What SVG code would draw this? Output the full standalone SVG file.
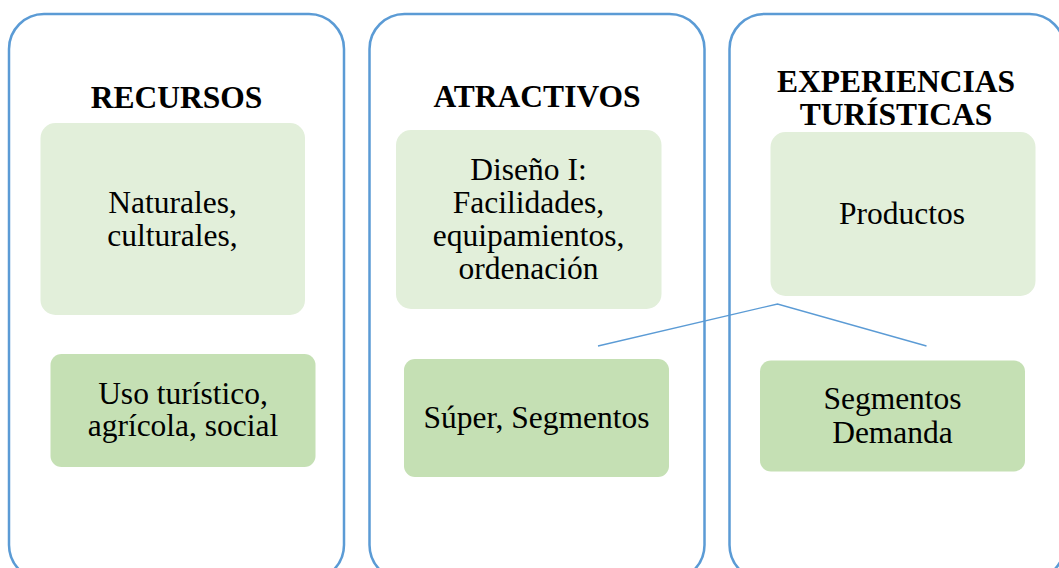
<svg xmlns="http://www.w3.org/2000/svg" width="1059" height="568" viewBox="0 0 1059 568">
<style>
.panel{fill:#FFFFFF;stroke:#5B9BD5;stroke-width:2.5}
.light{fill:#E2EFDA}
.dark{fill:#C5E0B4}
.h{font-family:"Liberation Serif","Times New Roman",serif;font-weight:bold;font-size:31.5px;fill:#000;text-anchor:middle}
.t{font-family:"Liberation Serif","Times New Roman",serif;font-size:31.5px;fill:#000;text-anchor:middle}
.conn{fill:none;stroke:#5B9BD5;stroke-width:1.3}
</style>
<rect width="1059" height="568" fill="#FFFFFF"/>
<g id="panel-recursos">
<rect class="panel" x="9" y="14" width="335" height="566" rx="35" ry="35"/>
<text class="h" x="176.5" y="108">RECURSOS</text>
</g>
<g id="panel-atractivos">
<rect class="panel" x="369.5" y="14" width="335" height="566" rx="35" ry="35"/>
<text class="h" x="537" y="107">ATRACTIVOS</text>
</g>
<g id="panel-experiencias">
<rect class="panel" x="729.5" y="14" width="335" height="566" rx="35" ry="35"/>
<text class="h" x="896" y="91.5">EXPERIENCIAS</text>
<text class="h" x="896" y="125">TURÍSTICAS</text>
</g>
<g id="connectors">
<polyline class="conn" points="598,346 777.5,304 926.5,346"/>
</g>
<g id="node-naturales">
<rect class="light" x="40.5" y="123" width="264.5" height="192" rx="15" ry="15"/>
<text class="t" x="172.5" y="213">Naturales,</text>
<text class="t" x="172.5" y="246">culturales,</text>
</g>
<g id="node-uso">
<rect class="dark" x="50.5" y="354" width="265" height="113" rx="11" ry="11"/>
<text class="t" x="183" y="404">Uso turístico,</text>
<text class="t" x="183" y="436">agrícola, social</text>
</g>
<g id="node-diseno">
<rect class="light" x="396" y="130" width="265.5" height="179" rx="15" ry="15"/>
<text class="t" x="528.5" y="180">Diseño I:</text>
<text class="t" x="528.5" y="213">Facilidades,</text>
<text class="t" x="528.5" y="246">equipamientos,</text>
<text class="t" x="528.5" y="279">ordenación</text>
</g>
<g id="node-super">
<rect class="dark" x="404" y="359" width="265" height="118" rx="11" ry="11"/>
<text class="t" x="536.5" y="428">Súper, Segmentos</text>
</g>
<g id="node-productos">
<rect class="light" x="770.5" y="132" width="265" height="164" rx="15" ry="15"/>
<text class="t" x="902" y="224">Productos</text>
</g>
<g id="node-segmentos">
<rect class="dark" x="760" y="360.5" width="265" height="111" rx="11" ry="11"/>
<text class="t" x="892.5" y="409">Segmentos</text>
<text class="t" x="892.5" y="443">Demanda</text>
</g>
</svg>
